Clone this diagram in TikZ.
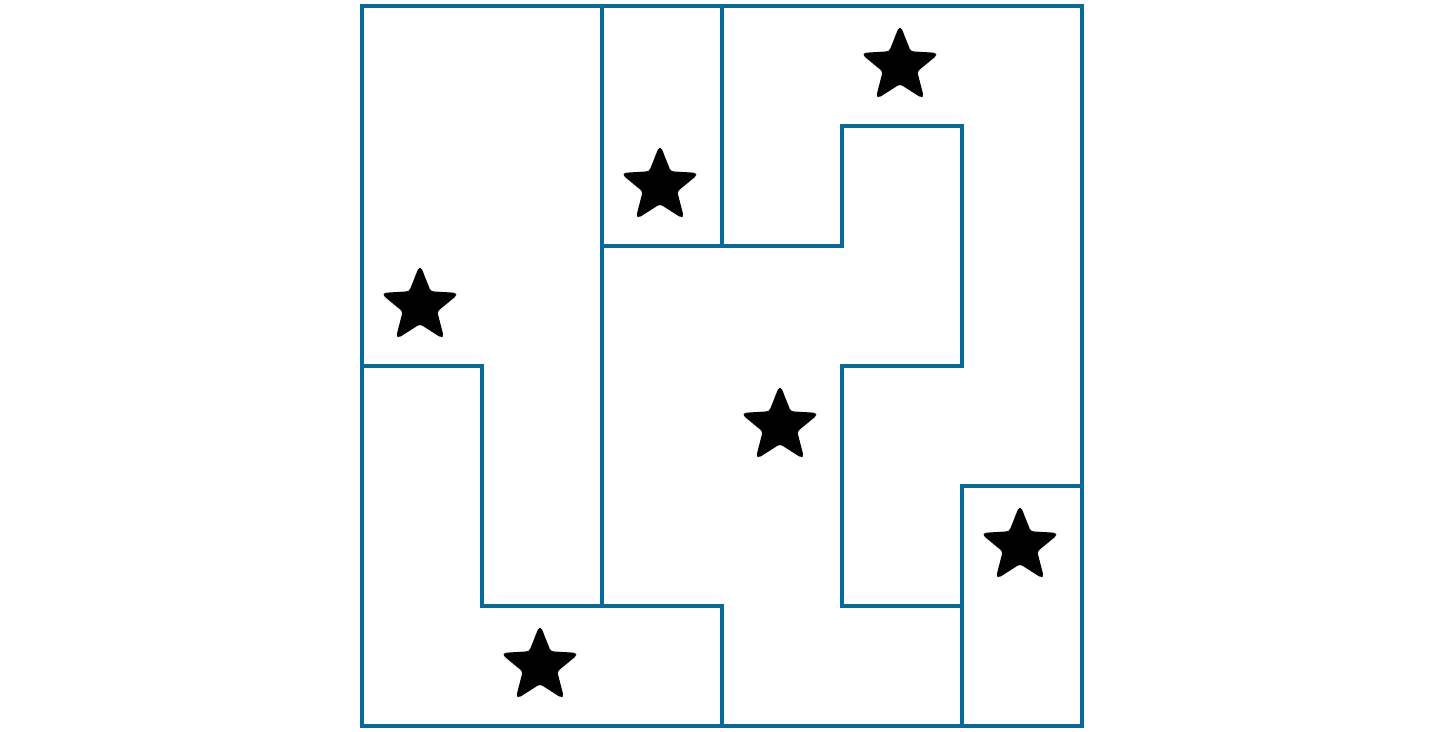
\documentclass[tikz,border=0pt]{standalone}
\usetikzlibrary{shapes.geometric}
\definecolor{wallC}{RGB}{8,104,150}

\begin{document}
\begin{tikzpicture}[
  wall/.style={line width=0.8pt, draw=wallC},
  starmark/.style={star, star points=5, star point ratio=2.3, fill=black,
    draw=black, line width=0.6pt, rounded corners=0.8pt, inner sep=0pt, minimum size=0.64cm,
    xshift=-0.017cm},
  x=1cm, y=1cm  % one unit per cell, rows counted from the bottom
]
\useasboundingbox (-3.0167,-0.05) rectangle (9.05,6.05);

% ---------- outer frame ----------
\draw[wall] (0,0) rectangle (6,6);

% ---------- region walls ----------
\draw[wall] (2,1) -- (2,6);
\draw[wall] (3,6) -- (3,4);
\draw[wall] (2,4) -- (4,4) -- (4,5) -- (5,5) -- (5,3) -- (4,3) -- (4,1) -- (5,1);
\draw[wall] (5,0) -- (5,2) -- (6,2);
\draw[wall] (0,3) -- (1,3) -- (1,1) -- (3,1) -- (3,0);

% ---------- stars ----------
\node[starmark] (s1) at (0.5,3.5) {};
\node[starmark] (s2) at (2.5,4.5) {};
\node[starmark] (s3) at (4.5,5.5) {};
\node[starmark] (s4) at (3.5,2.5) {};
\node[starmark] (s5) at (5.5,1.5) {};
\node[starmark] (s6) at (1.5,0.5) {};

\end{tikzpicture}
\end{document}
